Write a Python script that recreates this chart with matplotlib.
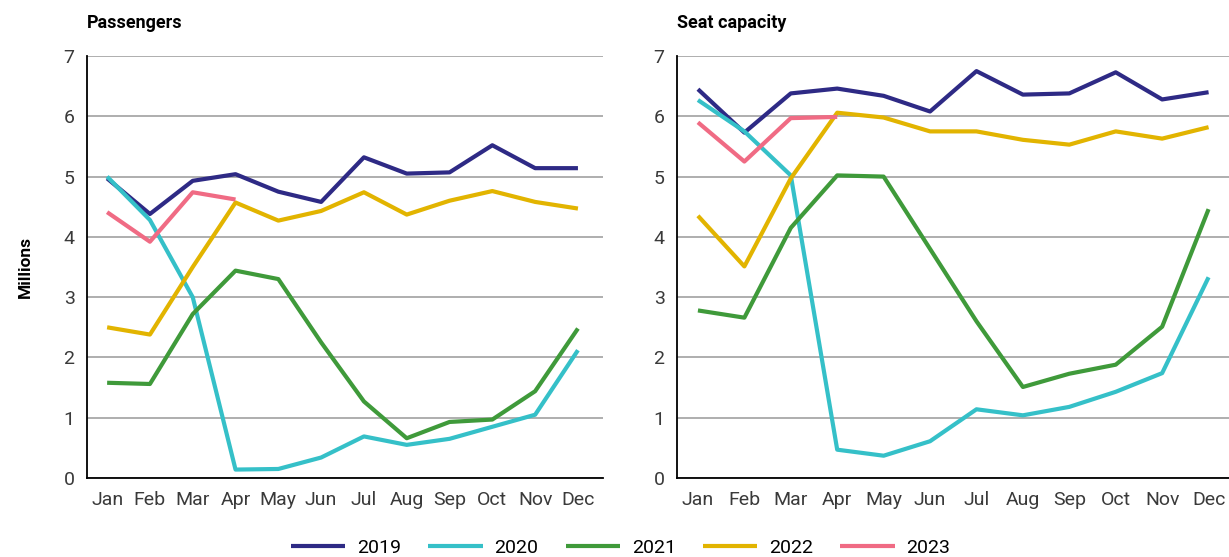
import matplotlib
matplotlib.use("Agg")
import matplotlib.pyplot as plt

plt.rcParams['font.family'] = ['Roboto', 'DejaVu Sans']

months = ["Jan", "Feb", "Mar", "Apr", "May", "Jun", "Jul", "Aug", "Sep", "Oct", "Nov", "Dec"]
years = ["2019", "2020", "2021", "2022", "2023"]
colors = ["#2e2a85", "#35c0c8", "#3f9a3a", "#e2b400", "#f06b84"]

# passengers, millions
pax_2019 = [4.97, 4.38, 4.93, 5.04, 4.75, 4.58, 5.32, 5.05, 5.07, 5.52, 5.14, 5.14]
pax_2020 = [5.00, 4.28, 3.00, 0.14, 0.15, 0.34, 0.69, 0.55, 0.65, 0.85, 1.05, 2.12]
pax_2021 = [1.58, 1.56, 2.72, 3.44, 3.30, 2.25, 1.27, 0.66, 0.93, 0.97, 1.44, 2.48]
pax_2022 = [2.50, 2.38, 3.50, 4.57, 4.27, 4.43, 4.74, 4.37, 4.60, 4.76, 4.58, 4.47]
pax_2023 = [4.41, 3.92, 4.74, 4.62]

# seat capacity, millions
seat_2019 = [6.45, 5.73, 6.38, 6.46, 6.34, 6.08, 6.75, 6.36, 6.38, 6.73, 6.28, 6.40]
seat_2020 = [6.27, 5.75, 5.02, 0.47, 0.37, 0.61, 1.14, 1.04, 1.18, 1.43, 1.74, 3.33]
seat_2021 = [2.78, 2.66, 4.15, 5.02, 5.00, 3.80, 2.60, 1.51, 1.73, 1.88, 2.51, 4.46]
seat_2022 = [4.35, 3.51, 4.97, 6.06, 5.98, 5.75, 5.75, 5.61, 5.53, 5.75, 5.63, 5.82]
seat_2023 = [5.90, 5.25, 5.97, 5.99]

pax = [pax_2019, pax_2020, pax_2021, pax_2022, pax_2023]
seat = [seat_2019, seat_2020, seat_2021, seat_2022, seat_2023]

fig = plt.figure(figsize=(12.29, 5.57), dpi=100)
ax1 = fig.add_axes([0.0708, 0.1418, 0.42, 0.7576])
ax2 = fig.add_axes([0.5509, 0.1418, 0.4491, 0.7576])


def setup(ax, series, title, xlim):
    for vals, c, yr in zip(series, colors, years):
        ax.plot(range(len(vals)), vals, color=c, lw=3, label=yr, solid_capstyle='butt')
    ax.set_ylim(0, 7)
    ax.set_xlim(*xlim)
    ax.set_yticks(range(8))
    ax.set_xticks(range(12))
    ax.set_xticklabels(months)
    ax.grid(axis='y', color='#a8a8a8', lw=1.3)
    ax.set_axisbelow(True)
    for s in ['top', 'right']:
        ax.spines[s].set_visible(False)
    ax.spines['left'].set_linewidth(1.3)
    ax.spines['bottom'].set_linewidth(1.3)
    ax.tick_params(length=0, labelsize=14, colors='#3a3a3a', pad=9)
    ax.text(0, 1.057, title, transform=ax.transAxes, fontsize=13, fontweight='bold', va='bottom')


setup(ax1, pax, "Passengers", (-0.47, 11.59))
setup(ax2, seat, "Seat capacity", (-0.45, 11.44))
ax1.set_ylabel("Millions", fontsize=12.5, fontweight='bold', labelpad=22)

handles, labels = ax1.get_legend_handles_labels()
fig.legend(handles, labels, loc='center', bbox_to_anchor=(0.505, 0.017), ncol=5, frameon=False,
           fontsize=14, handlelength=2.8, columnspacing=1.4, handletextpad=0.6)

fig.savefig("out.png", dpi=100)
